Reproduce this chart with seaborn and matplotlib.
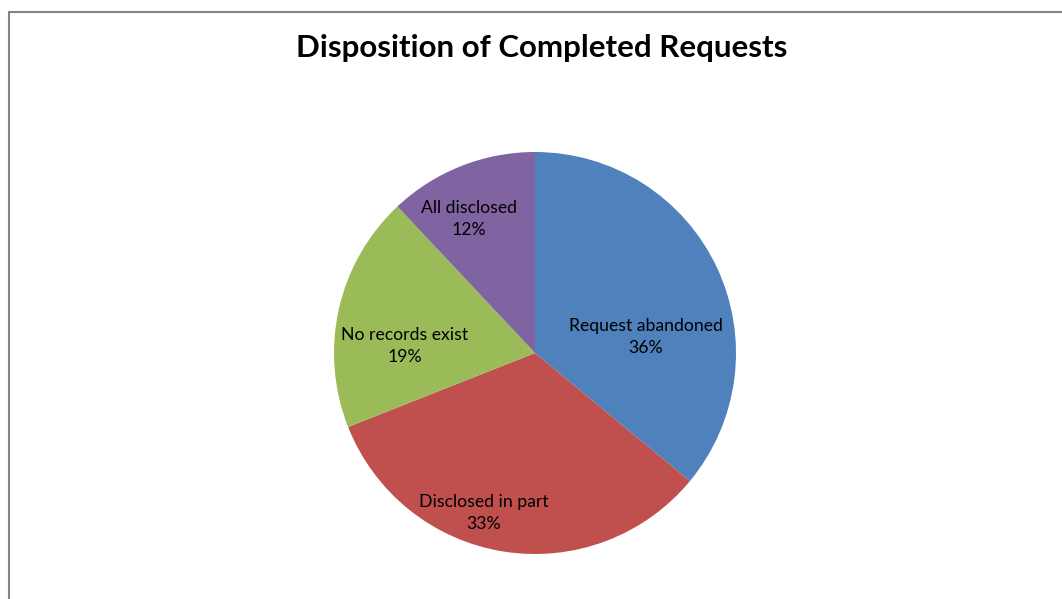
import matplotlib
matplotlib.use("Agg")
import matplotlib.pyplot as plt
import seaborn as sns
from matplotlib.patches import Rectangle

sns.set_theme(style="white")
plt.rcParams['font.family'] = ['Lato', 'DejaVu Sans']

categories = ["Request abandoned", "Disclosed in part", "No records exist", "All disclosed"]
values = [36, 33, 19, 12]
colors = ["#4F81BD", "#C0504D", "#9BBB59", "#8064A2"]
label_pos = [(0.552, 0.08), (-0.254, -0.796), (-0.647, 0.035), (-0.328, 0.667)]

fig = plt.figure(figsize=(10.62, 5.99), dpi=100)
W, H = 1062, 599
cx, cy, r = 535, 353, 201
ax = fig.add_axes([(cx - r) / W, (H - cy - r) / H, 2 * r / W, 2 * r / H])
wedges, _ = ax.pie(values, colors=colors, startangle=90, counterclock=False,
                   radius=1.0, wedgeprops=dict(linewidth=0))
ax.set_xlim(-1, 1)
ax.set_ylim(-1, 1)
ax.set_aspect('equal')
ax.axis('off')

for cat, v, (x, y) in zip(categories, values, label_pos):
    ax.text(x, y, f"{cat}\n{v}%", ha='center', va='center', fontsize=12.7,
            color='#000000', linespacing=1.5)

fig.text(542 / W, 1 - 48 / H, "Disposition of Completed Requests", ha='center',
         va='center', fontsize=22.5, fontweight='bold', color='black')

fig.patches.append(Rectangle((9 / W, -0.05), 1.2, 1 - 12 / H + 0.05,
                             transform=fig.transFigure, fill=False,
                             edgecolor='#868686', linewidth=1.5))

fig.savefig("out.png", dpi=100)
